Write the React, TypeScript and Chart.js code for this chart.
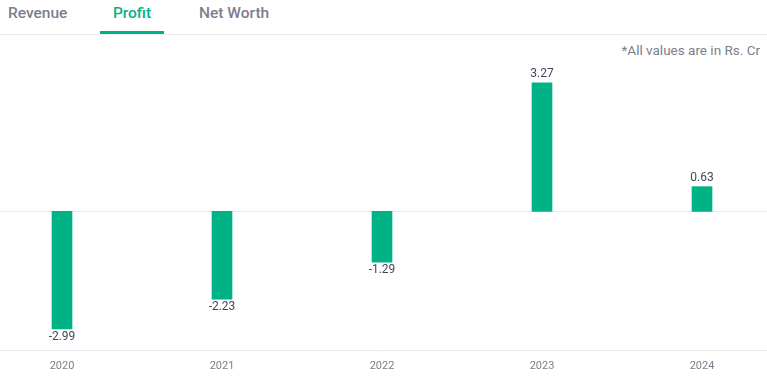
import React, { useEffect, useRef } from "react";
import { Chart, registerables } from "chart.js";

Chart.register(...registerables);

const years = ["2020", "2021", "2022", "2023", "2024"];
const profit = [-2.99, -2.23, -1.29, 3.27, 0.63];
const tabs = ["Revenue", "Profit", "Net Worth"];
const note = "*All values are in Rs. Cr";

const GREEN = "#00b386";
const GRAY = "#7c7e8c";
const LINE = "#e9e9eb";

const linesPlugin = {
  id: "fullLines",
  beforeDatasetsDraw(chart: any) {
    const { ctx, chartArea, scales, width } = chart;
    const y0 = Math.round(scales.y.getPixelForValue(0)) + 0.5;
    const yb = Math.round(chartArea.bottom) + 0.5;
    ctx.save();
    ctx.strokeStyle = LINE;
    ctx.lineWidth = 1;
    ctx.beginPath();
    ctx.moveTo(0, y0);
    ctx.lineTo(width, y0);
    ctx.moveTo(0, yb);
    ctx.lineTo(width, yb);
    ctx.stroke();
    ctx.restore();
  },
};

const labelPlugin = {
  id: "valueLabels",
  afterDatasetsDraw(chart: any) {
    const { ctx } = chart;
    const meta = chart.getDatasetMeta(0);
    const data = chart.data.datasets[0].data as number[];
    ctx.save();
    ctx.font = "12px Roboto";
    ctx.fillStyle = "#44475b";
    ctx.textAlign = "center";
    meta.data.forEach((bar: any, i: number) => {
      const v = data[i];
      const txt = v.toFixed(2);
      if (v >= 0) {
        ctx.textBaseline = "bottom";
        ctx.fillText(txt, bar.x, bar.y - 3);
      } else {
        ctx.textBaseline = "top";
        ctx.fillText(txt, bar.x, bar.y + 2);
      }
    });
    ctx.restore();
  },
};

export default function App() {
  const ref = useRef<HTMLCanvasElement>(null);
  useEffect(() => {
    const chart = new Chart(ref.current!, {
      type: "bar",
      data: {
        labels: years,
        datasets: [
          {
            data: profit,
            backgroundColor: GREEN,
            barThickness: 20,
            clip: false as any,
          },
        ],
      },
      options: {
        animation: false,
        responsive: false,
        maintainAspectRatio: false,
        layout: { padding: { left: 62, right: 65, top: 20, bottom: 0 } },
        plugins: { legend: { display: false }, tooltip: { enabled: false } },
        scales: {
          x: {
            offset: false,
            grid: { display: false, drawTicks: false },
            border: { display: false },
            ticks: {
              color: GRAY,
              font: { family: "Roboto", size: 11 },
              padding: 10,
              maxRotation: 0,
              autoSkip: false,
            },
          },
          y: {
            display: false,
            min: -3.52,
            max: 3.98,
          },
        },
      },
      plugins: [linesPlugin, labelPlugin],
    });
    return () => chart.destroy();
  }, []);

  return (
    <div
      style={{
        position: "absolute",
        left: 0,
        top: 0,
        width: 767,
        height: 383,
        background: "#fff",
        fontFamily: "Roboto, sans-serif",
      }}
    >
      <div
        style={{
          position: "absolute",
          left: 0,
          top: 0,
          width: 767,
          height: 34,
          borderBottom: `1px solid ${LINE}`,
        }}
      >
        {tabs.map((t, i) => {
          const active = i === 1;
          const lefts = [8, 100, 199];
          const widths = [62, 64, 74];
          return (
            <div
              key={t}
              style={{
                position: "absolute",
                left: lefts[i],
                top: 0,
                width: widths[i],
                height: 34,
                textAlign: active ? "center" : "left",
                lineHeight: "27px",
                fontSize: 15.5,
                fontWeight: 500,
                color: active ? GREEN : GRAY,
                boxSizing: "border-box",
                borderBottom: active ? `3px solid ${GREEN}` : "none",
              }}
            >
              {t}
            </div>
          );
        })}
      </div>
      <div
        style={{
          position: "absolute",
          right: 7,
          top: 41,
          fontSize: 13.5,
          color: GRAY,
          lineHeight: "18px",
        }}
      >
        {note}
      </div>
      <canvas
        ref={ref}
        width={767}
        height={348}
        style={{ position: "absolute", left: 0, top: 35, width: 767, height: 348 }}
      />
    </div>
  );
}
